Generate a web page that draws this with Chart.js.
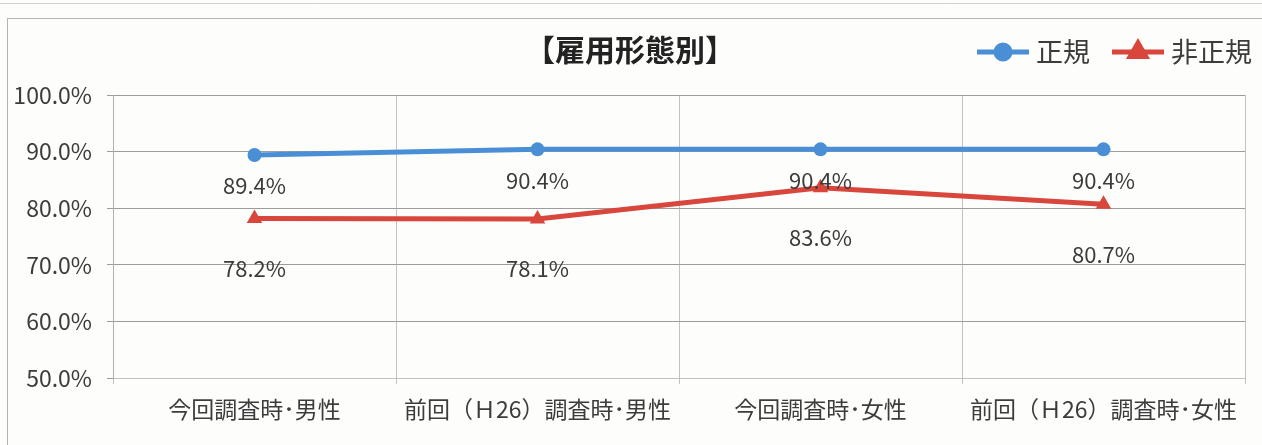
<!DOCTYPE html>
<html>
<head>
<meta charset="utf-8">
<script src="https://cdn.jsdelivr.net/npm/chart.js@4.4.1/dist/chart.umd.min.js"></script>
<style>
  html, body { margin: 0; padding: 0; background: #fdfdfb; }
  #wrap { width: 1262px; height: 445px; }
</style>
</head>
<body>
<div id="wrap"><canvas id="c"></canvas></div>
<script>
// データ
const categories = ["今回調査時･男性", "前回（Ｈ26）調査時･男性", "今回調査時･女性", "前回（Ｈ26）調査時･女性"];
const seiki = [89.4, 90.4, 90.4, 90.4];
const hiseiki = [78.2, 78.1, 83.6, 80.7];
const seriesNames = ["正規", "非正規"];
const titleText = "【雇用形態別】";

const FONT = "'Noto Sans CJK JP', 'Noto Sans', sans-serif";
const BLUE = "#4a8fd6";
const RED = "#d8463c";
const TEXT = "#3c3c3c";

// 枠とタイトル・凡例
const decor = {
  id: "decor",
  beforeDraw(chart) {
    const ctx = chart.ctx;
    ctx.save();
    ctx.strokeStyle = "#b4b4b4";
    ctx.lineWidth = 1;
    ctx.strokeRect(7.5, 18.5, 1262, 440);
    ctx.strokeStyle = "#d0d0d0";
    ctx.beginPath();
    ctx.moveTo(0, 3.5);
    ctx.lineTo(1262, 3.5);
    ctx.stroke();
    ctx.restore();
  },
  afterDraw(chart) {
    const ctx = chart.ctx;
    ctx.save();
    // タイトル
    ctx.fillStyle = "#222";
    ctx.font = "bold 30px " + FONT;
    ctx.textAlign = "center";
    ctx.textBaseline = "middle";
    ctx.fillText(titleText, 630, 50);

    // 凡例
    ctx.font = "27px " + FONT;
    ctx.textAlign = "left";
    let x = 977;
    const y = 52;
    chart.data.datasets.forEach(ds => {
      const w = 52;
      ctx.strokeStyle = ds.borderColor;
      ctx.lineWidth = 5;
      ctx.beginPath();
      ctx.moveTo(x, y);
      ctx.lineTo(x + w, y);
      ctx.stroke();
      Chart.helpers.drawPoint(ctx, {
        pointStyle: ds.pointStyle,
        radius: ds.pointRadius,
        borderWidth: 1
      }, x + w / 2, y);
      ctx.fillStyle = ds.borderColor;
      ctx.fill();
      ctx.fillStyle = TEXT;
      ctx.fillText(ds.label, x + w + 7, y);
      x += w + 7 + ctx.measureText(ds.label).width + 22;
    });

    // データラベル
    ctx.font = "22px " + FONT;
    ctx.textAlign = "center";
    ctx.fillStyle = TEXT;
    chart.data.datasets.forEach((ds, i) => {
      const meta = chart.getDatasetMeta(i);
      const off = i === 0 ? 31 : 50;
      meta.data.forEach((pt, j) => {
        ctx.fillText(ds.data[j].toFixed(1) + "%", pt.x, pt.y + off);
      });
    });
    ctx.restore();
  }
};

new Chart(document.getElementById("c"), {
  type: "line",
  data: {
    labels: categories,
    datasets: [
      {
        label: seriesNames[0],
        data: seiki,
        borderColor: BLUE,
        backgroundColor: BLUE,
        borderWidth: 5,
        pointStyle: "circle",
        pointRadius: 7,
        pointBorderWidth: 0,
        tension: 0
      },
      {
        label: seriesNames[1],
        data: hiseiki,
        borderColor: RED,
        backgroundColor: RED,
        borderWidth: 5,
        pointStyle: "triangle",
        pointRadius: 9,
        pointBorderWidth: 0,
        tension: 0
      }
    ]
  },
  options: {
    responsive: true,
    maintainAspectRatio: false,
    animation: false,
    layout: { padding: { left: 0, right: 17, top: 95, bottom: 0 } },
    plugins: {
      legend: { display: false },
      title: { display: false },
      tooltip: { enabled: false }
    },
    scales: {
      x: {
        offset: true,
        grid: { offset: true, color: "#c2c2c2", tickLength: 6 },
        border: { color: "#c2c2c2" },
        ticks: { color: TEXT, font: { family: FONT, size: 23 }, padding: 11, maxRotation: 0 },
        afterFit(scale) { scale.height = 67; }
      },
      y: {
        min: 50,
        max: 100,
        grid: { color: "#9c9c9c", tickLength: 6 },
        border: { color: "#b0b0b0" },
        ticks: {
          stepSize: 10,
          color: TEXT,
          padding: 15,
          font: { family: FONT, size: 23 },
          callback: v => v.toFixed(1) + "%"
        },
        afterFit(scale) { scale.width = 113; }
      }
    }
  },
  plugins: [decor]
});
</script>
</body>
</html>
